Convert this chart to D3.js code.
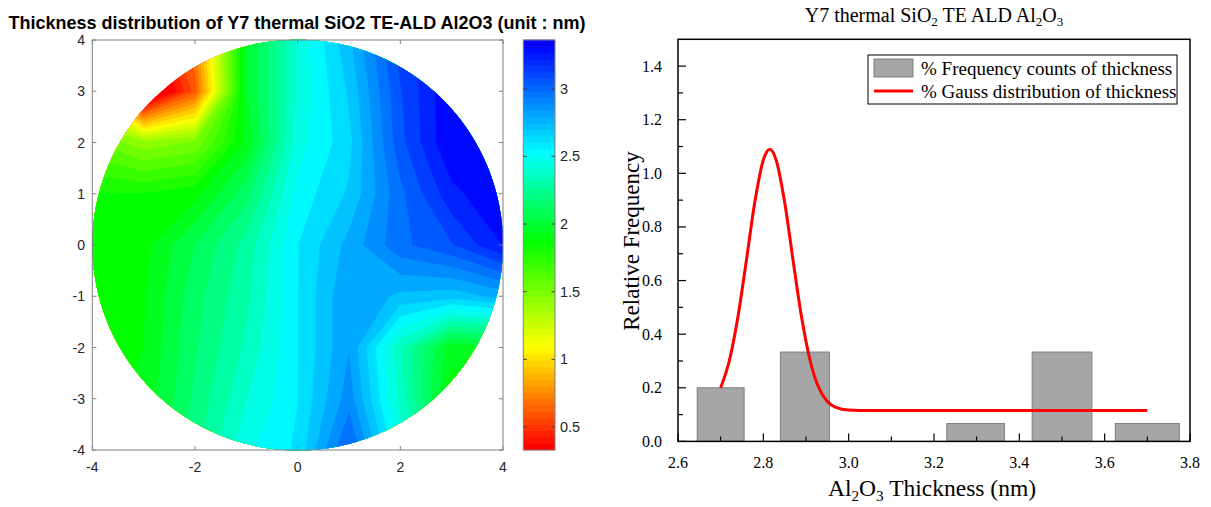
<!DOCTYPE html>
<html><head><meta charset="utf-8">
<script src="https://cdn.jsdelivr.net/npm/d3@7"></script>
<style>body{margin:0;background:#fff} svg{display:block}</style>
</head><body><svg id="c" width="1211" height="507"></svg>
<script>
// ---------- Left: wafer thickness map (nm), grid x=-4..4, y=4..-4 ----------
const gridX = [-4, -3, -2, -1, 0, 1, 2, 3, 4];
const gridY = [4, 3, 2, 1, 0, -1, -2, -3, -4];
const row_y4  = [0.90, 0.30, 0.75, 2.00, 2.45, 2.75, 3.15, 3.33, 3.35];
const row_y3  = [1.10, 0.05, 0.62, 2.00, 2.45, 2.70, 3.10, 3.36, 3.36];
const row_y2  = [1.60, 1.45, 1.52, 1.95, 2.48, 2.66, 3.08, 3.36, 3.36];
const row_y1  = [1.85, 1.85, 1.90, 2.15, 2.55, 2.70, 3.00, 3.25, 3.36];
const row_y0  = [1.85, 1.90, 2.10, 2.30, 2.60, 2.80, 3.00, 3.10, 3.28];
const row_ym1 = [1.85, 1.92, 2.15, 2.33, 2.60, 2.85, 2.75, 2.72, 2.80];
const row_ym2 = [1.85, 1.93, 2.17, 2.37, 2.60, 2.85, 2.37, 1.95, 2.00];
const row_ym3 = [1.90, 1.95, 2.20, 2.43, 2.60, 2.90, 2.40, 1.90, 1.90];
const row_ym4 = [1.95, 2.00, 2.25, 2.50, 2.62, 3.05, 2.50, 2.20, 2.00];
const thicknessRows = [row_y4, row_y3, row_y2, row_y1, row_y0, row_ym1, row_ym2, row_ym3, row_ym4];
const mapTicks = [-4, -3, -2, -1, 0, 1, 2, 3, 4];
const mapXTicks = [-4, -2, 0, 2, 4];
const cbarTicks = [0.5, 1, 1.5, 2, 2.5, 3];
const cbarRange = [0.33, 3.36];
const cmapStops = [0.33, 1.07, 1.85, 2.5, 3.3, 3.36];
const cmapColors = ["#ff0000", "#ffff00", "#00ff00", "#00ffff", "#0000ff", "#2800ff"];

// ---------- Right: histogram + gauss fit ----------
const binStart = [2.645, 2.840, 3.230, 3.430, 3.625];
const binEnd   = [2.755, 2.955, 3.365, 3.570, 3.775];
const relFreq  = [0.2, 0.3333, 0.0667, 0.3333, 0.0667];
const gaussX = [2.70, 2.72, 2.74, 2.76, 2.78, 2.80, 2.815, 2.83, 2.85, 2.87, 2.89, 2.91, 2.93, 2.95, 2.97, 3.00, 3.05, 3.20, 3.40, 3.60, 3.70];
const gaussY = [0.200, 0.299, 0.460, 0.672, 0.892, 1.050, 1.090, 1.050, 0.892, 0.672, 0.460, 0.299, 0.200, 0.149, 0.127, 0.117, 0.115, 0.115, 0.115, 0.115, 0.115];
const histXTicks = [2.6, 2.8, 3.0, 3.2, 3.4, 3.6, 3.8];
const histXMinor = [2.7, 2.9, 3.1, 3.3, 3.5, 3.7];
const histYTicks = [0.0, 0.2, 0.4, 0.6, 0.8, 1.0, 1.2, 1.4];
const histYMinor = [0.1, 0.3, 0.5, 0.7, 0.9, 1.1, 1.3];
const legendLabels = ["% Frequency counts of thickness", "% Gauss distribution of thickness"];

const svg = d3.select("#c");
const sans = "'Liberation Sans', Arial, sans-serif";
const serif = "'Liberation Serif', 'Times New Roman', serif";

// ===== LEFT PANEL =====
const xL = d3.scaleLinear([-4, 4], [92.3, 503]);
const yL = d3.scaleLinear([-4, 4], [450, 40]);
const cmap = d3.scaleLinear().domain(cmapStops).range(cmapColors).clamp(true);

svg.append("text").attr("x", 297).attr("y", 29).attr("text-anchor", "middle")
  .attr("font-family", sans).attr("font-weight", "bold").attr("font-size", 18).attr("fill", "#000")
  .text("Thickness distribution of Y7 thermal SiO2 TE-ALD Al2O3 (unit : nm)");

const defs = svg.append("defs");
defs.append("clipPath").attr("id", "wafer").append("circle")
  .attr("cx", xL(0)).attr("cy", yL(0)).attr("r", (xL(4) - xL(-4)) / 2);

const step = 1;
const levels = [-1].concat(d3.range(cbarRange[0], cbarRange[1], 0.0842));
const flat = thicknessRows.flat();
const contours = d3.contours().size([gridX.length, gridY.length]).thresholds(levels)(flat);
const proj = d3.geoTransform({
  point(x, y) {
    this.stream.point(xL(gridX[0] + (x - 0.5) * step), yL(gridY[0] - (y - 0.5) * step));
  }
});
const path = d3.geoPath(proj);
svg.append("g").attr("clip-path", "url(#wafer)")
  .selectAll("path").data(contours).join("path")
  .attr("d", path).attr("fill", d => cmap(d.value)).attr("stroke", d => cmap(d.value)).attr("stroke-width", 0.4);

// frame & ticks (MATLAB style, inward on all sides)
const axCol = "#262626";
const gF = svg.append("g");
gF.append("rect").attr("x", xL(-4)).attr("y", yL(4)).attr("width", xL(4) - xL(-4)).attr("height", yL(-4) - yL(4))
  .attr("fill", "none").attr("stroke", "#808080").attr("stroke-width", 1);
mapXTicks.forEach(t => {
  gF.append("line").attr("x1", xL(t)).attr("x2", xL(t)).attr("y1", yL(-4)).attr("y2", yL(-4) - 4).attr("stroke", "#808080");
  gF.append("line").attr("x1", xL(t)).attr("x2", xL(t)).attr("y1", yL(4)).attr("y2", yL(4) + 4).attr("stroke", "#808080");
  gF.append("text").attr("x", xL(t)).attr("y", 472).attr("text-anchor", "middle")
    .attr("font-family", sans).attr("font-size", 14).attr("fill", axCol).text(t);
});
mapTicks.forEach(t => {
  gF.append("line").attr("y1", yL(t)).attr("y2", yL(t)).attr("x1", xL(-4)).attr("x2", xL(-4) + 4).attr("stroke", "#808080");
  gF.append("line").attr("y1", yL(t)).attr("y2", yL(t)).attr("x1", xL(4)).attr("x2", xL(4) - 4).attr("stroke", "#808080");
  gF.append("text").attr("x", 85).attr("y", yL(t) + 5).attr("text-anchor", "end")
    .attr("font-family", sans).attr("font-size", 14).attr("fill", axCol).text(t);
});

// colorbar
const cb = d3.scaleLinear(cbarRange, [450, 40]);
const cbX0 = 523.3, cbX1 = 555;
const nBands = 64;
const bandVals = d3.range(nBands).map(i => cbarRange[0] + i * (cbarRange[1] - cbarRange[0]) / nBands);
const bandH = (cb(cbarRange[0]) - cb(cbarRange[1])) / nBands;
svg.append("g").selectAll("rect").data(bandVals).join("rect")
  .attr("x", cbX0).attr("width", cbX1 - cbX0)
  .attr("y", v => cb(v) - bandH - 0.3).attr("height", bandH + 0.6)
  .attr("fill", v => cmap(v));
svg.append("rect").attr("x", cbX0).attr("y", cb(cbarRange[1])).attr("width", cbX1 - cbX0)
  .attr("height", cb(cbarRange[0]) - cb(cbarRange[1])).attr("fill", "none").attr("stroke", "#808080");
cbarTicks.forEach(t => {
  svg.append("line").attr("x1", cbX1).attr("x2", cbX1 - 3.5).attr("y1", cb(t)).attr("y2", cb(t)).attr("stroke", "#404040");
  svg.append("line").attr("x1", cbX0).attr("x2", cbX0 + 3.5).attr("y1", cb(t)).attr("y2", cb(t)).attr("stroke", "#404040");
  svg.append("text").attr("x", 560).attr("y", cb(t) + 5)
    .attr("font-family", sans).attr("font-size", 14.5).attr("fill", axCol).text(t);
});

// ===== RIGHT PANEL =====
const xR = d3.scaleLinear([2.6, 3.8], [678, 1190]);
const yR = d3.scaleLinear([0, 1.5], [441.4, 39.3]);

svg.append("g").selectAll("rect").data(relFreq).join("rect")
  .attr("x", (d, i) => xR(binStart[i])).attr("width", (d, i) => xR(binEnd[i]) - xR(binStart[i]))
  .attr("y", d => yR(d)).attr("height", d => yR(0) - yR(d))
  .attr("fill", "#a6a6a6").attr("stroke", "#7f7f7f").attr("stroke-width", 1);

const line = d3.line().x((d, i) => xR(gaussX[i])).y(d => yR(d)).curve(d3.curveMonotoneX);
svg.append("path").attr("d", line(gaussY)).attr("fill", "none").attr("stroke", "#ff0000").attr("stroke-width", 3);

// axes box
svg.append("rect").attr("x", xR(2.6)).attr("y", yR(1.5)).attr("width", xR(3.8) - xR(2.6)).attr("height", yR(0) - yR(1.5))
  .attr("fill", "none").attr("stroke", "#000").attr("stroke-width", 1.5);
const gAx = svg.append("g").attr("stroke", "#000").attr("stroke-width", 1.2);
histXTicks.forEach(t => gAx.append("line").attr("x1", xR(t)).attr("x2", xR(t)).attr("y1", yR(0)).attr("y2", yR(0) - 8));
histXMinor.forEach(t => gAx.append("line").attr("x1", xR(t)).attr("x2", xR(t)).attr("y1", yR(0)).attr("y2", yR(0) - 5));
histYTicks.forEach(t => gAx.append("line").attr("y1", yR(t)).attr("y2", yR(t)).attr("x1", xR(2.6)).attr("x2", xR(2.6) + 8));
histYMinor.forEach(t => gAx.append("line").attr("y1", yR(t)).attr("y2", yR(t)).attr("x1", xR(2.6)).attr("x2", xR(2.6) + 5));
histXTicks.forEach(t => svg.append("text").attr("x", xR(t)).attr("y", 468).attr("text-anchor", "middle")
  .attr("font-family", serif).attr("font-size", 16).attr("fill", "#000").text(d3.format(".1f")(t)));
histYTicks.forEach(t => svg.append("text").attr("x", 662).attr("y", yR(t) + 5.5).attr("text-anchor", "end")
  .attr("font-family", serif).attr("font-size", 16).attr("fill", "#000").text(d3.format(".1f")(t)));

// titles with subscripts
function subText(x, y, size, parts, rotate) {
  const t = svg.append("text").attr("x", x).attr("y", y).attr("text-anchor", "middle")
    .attr("font-family", serif).attr("font-size", size).attr("fill", "#000");
  if (rotate) t.attr("transform", `rotate(-90 ${x} ${y})`);
  parts.forEach(p => {
    if (p.sub) t.append("tspan").attr("font-size", size * 0.65).attr("dy", size * 0.22).text(p.s);
    else t.append("tspan").attr("dy", p.after ? -size * 0.22 : 0).text(p.s);
  });
  return t;
}
subText(934, 22, 20, [{s: "Y7 thermal SiO"}, {s: "2", sub: true}, {s: " TE ALD Al", after: true}, {s: "2", sub: true}, {s: "O", after: true}, {s: "3", sub: true}]);
subText(932, 496, 23.5, [{s: "Al"}, {s: "2", sub: true}, {s: "O", after: true}, {s: "3", sub: true}, {s: " Thickness (nm)", after: true}]);
subText(639, 241, 23, [{s: "Relative Frequency"}], true);

// legend
const lg = svg.append("g");
lg.append("rect").attr("x", 868).attr("y", 55).attr("width", 309).attr("height", 49)
  .attr("fill", "#fff").attr("stroke", "#000").attr("stroke-width", 1);
lg.append("rect").attr("x", 874).attr("y", 59).attr("width", 39).attr("height", 18)
  .attr("fill", "#a6a6a6").attr("stroke", "#7f7f7f");
lg.append("line").attr("x1", 874).attr("x2", 913).attr("y1", 91).attr("y2", 91)
  .attr("stroke", "#ff0000").attr("stroke-width", 3);
legendLabels.forEach((l, i) => lg.append("text").attr("x", 921).attr("y", 74.5 + i * 23)
  .attr("font-family", serif).attr("font-size", 19).attr("fill", "#000").text(l));
</script></body></html>
